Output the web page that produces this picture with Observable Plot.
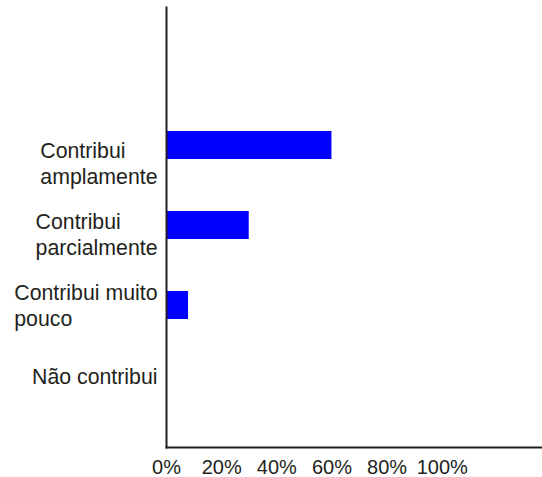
<!DOCTYPE html>
<html>
<head>
<meta charset="utf-8">
<script src="https://cdn.jsdelivr.net/npm/d3@7"></script>
<script src="https://cdn.jsdelivr.net/npm/@observablehq/plot@0.6"></script>
<style>
  html, body { margin: 0; padding: 0; background: #fff; }
  #chart { position: relative; width: 542px; height: 477px; }
  #chart svg { display: block; }
  #chart svg.overlay { position: absolute; left: 0; top: 0; pointer-events: none; background: transparent; }
</style>
</head>
<body>
<div id="chart"></div>
<script>
const categories = ["Contribui amplamente", "Contribui parcialmente", "Contribui muito pouco", "Não contribui"];
const labelLines = ["Contribui\namplamente", "Contribui\nparcialmente", "Contribui muito\npouco", "Não contribui"];
const values = [60, 30, 8, 0];
const xTicks = [0, 20, 40, 60, 80, 100];

const data = categories.map((c, i) => ({category: c, value: values[i]}));
const labelOf = new Map(categories.map((c, i) => [c, labelLines[i]]));

const ink = "#231f20";
const font = "'Liberation Sans', Arial, Helvetica, sans-serif";

// Main chart: bars, axis lines, percentage ticks
const chart = Plot.plot({
  width: 542,
  height: 477,
  marginLeft: 166,
  marginRight: 1,
  marginTop: 7,
  marginBottom: 30,
  style: {fontFamily: font, fontSize: "20px", color: ink, background: "#fff"},
  x: {domain: [0, 136], label: null},
  y: {domain: categories, paddingInner: 0.65, paddingOuter: 1.075, align: 0.721, label: null, axis: null},
  marks: [
    Plot.barX(data, {x: "value", y: "category", fill: "#0000ff"}),
    Plot.frame({anchor: "left", stroke: ink, strokeWidth: 2}),
    Plot.frame({anchor: "bottom", stroke: ink, strokeWidth: 2}),
    Plot.axisX({ticks: xTicks, tickFormat: d => d + "%", tickSize: 0, tickPadding: 12, fontSize: 20, fill: ink, label: null})
  ]
});

// Category labels: in the reference they sit on their own, slightly tighter band
const labels = Plot.plot({
  width: 542,
  height: 477,
  marginLeft: 166,
  marginRight: 1,
  marginTop: 127,
  marginBottom: 66,
  style: {fontFamily: font, fontSize: "21.3px", color: ink, background: "transparent"},
  y: {type: "band", domain: categories, padding: 0, label: null},
  marks: [
    Plot.axisY({tickFormat: d => labelOf.get(d), tickSize: 0, tickPadding: 9, fontSize: 21.3, lineHeight: 1.18, fill: ink, label: null})
  ]
});
labels.classList.add("overlay");

const host = document.getElementById("chart");
host.appendChild(chart);
host.appendChild(labels);

// Left-align lines inside each right-aligned label block
labels.querySelectorAll("g[aria-label='y-axis tick label'] text").forEach(t => {
  const b0 = t.getBBox();
  const right = b0.x + b0.width;
  t.setAttribute("text-anchor", "start");
  const b1 = t.getBBox();
  const shift = right - (b1.x + b1.width);
  const tr = t.getAttribute("transform") || "";
  t.setAttribute("transform", tr + ` translate(${shift},0)`);
});
</script>
</body>
</html>
